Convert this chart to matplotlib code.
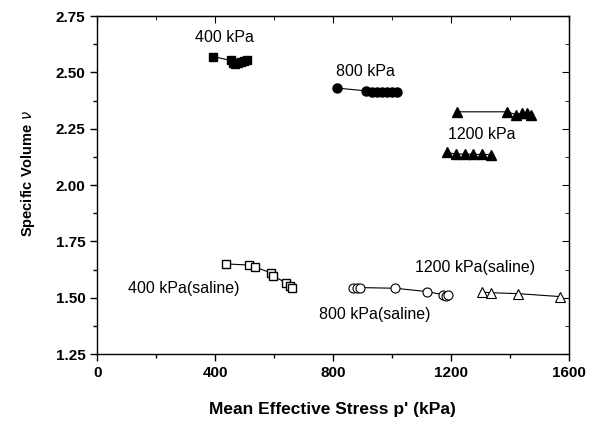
import matplotlib
matplotlib.use("Agg")
import matplotlib.pyplot as plt
from matplotlib.ticker import MultipleLocator

plt.rcParams['font.family'] = ['Liberation Sans', 'DejaVu Sans']

# Data (p' in kPa, specific volume v)
p_400 = [393, 452, 460, 468, 478, 488, 498, 508]
v_400 = [2.570, 2.553, 2.540, 2.537, 2.543, 2.548, 2.550, 2.553]

p_800 = [814, 912, 930, 948, 965, 982, 1000, 1015]
v_800 = [2.430, 2.418, 2.415, 2.413, 2.412, 2.412, 2.413, 2.414]

p_1200a = [1220, 1390, 1420, 1440, 1455, 1470]
v_1200a = [2.325, 2.325, 2.312, 2.318, 2.320, 2.313]

p_1200b = [1186, 1215, 1245, 1275, 1305, 1335]
v_1200b = [2.145, 2.137, 2.138, 2.136, 2.136, 2.135]

p_400s = [437, 515, 536, 590, 595, 641, 654, 660]
v_400s = [1.650, 1.645, 1.635, 1.610, 1.598, 1.565, 1.550, 1.545]

p_800s = [868, 880, 891, 1010, 1119, 1173, 1182, 1190]
v_800s = [1.545, 1.545, 1.545, 1.542, 1.527, 1.513, 1.508, 1.510]

p_1200s = [1305, 1336, 1427, 1569]
v_1200s = [1.525, 1.522, 1.518, 1.505]

x_ticks = [0, 400, 800, 1200, 1600]
y_ticks = [1.25, 1.50, 1.75, 2.00, 2.25, 2.50, 2.75]

fig = plt.figure(figsize=(6.0, 4.22), dpi=100)
ax = fig.add_axes([0.162, 0.161, 0.787, 0.801])

lw = 0.8
ax.plot(p_400, v_400, '-', color='black', lw=lw, marker='s', ms=6, mfc='black', mec='black')
ax.plot(p_800, v_800, '-', color='black', lw=lw, marker='o', ms=6.5, mfc='black', mec='black')
ax.plot(p_1200a, v_1200a, '-', color='black', lw=lw, marker='^', ms=7.5, mfc='black', mec='black')
ax.plot(p_1200b, v_1200b, '-', color='black', lw=lw, marker='^', ms=7.5, mfc='black', mec='black')
ax.plot(p_400s, v_400s, '-', color='black', lw=lw, marker='s', ms=6, mfc='white', mec='black', mew=1.0)
ax.plot(p_800s, v_800s, '-', color='black', lw=lw, marker='o', ms=6.5, mfc='white', mec='black', mew=0.8)
ax.plot(p_1200s, v_1200s, '-', color='black', lw=lw, marker='^', ms=7.5, mfc='white', mec='black', mew=0.8)

ax.set_xlim(0, 1600)
ax.set_ylim(1.25, 2.75)
ax.set_xticks(x_ticks)
ax.set_yticks(y_ticks)
ax.set_xticklabels([str(t) for t in x_ticks], fontweight='bold', fontsize=11)
ax.set_yticklabels(['%.2f' % t for t in y_ticks], fontweight='bold', fontsize=11)
ax.xaxis.set_minor_locator(MultipleLocator(200))
ax.yaxis.set_minor_locator(MultipleLocator(0.125))
ax.tick_params(which='major', direction='out', length=5, width=1)
ax.tick_params(which='minor', direction='out', length=3, width=1)
for s in ax.spines.values():
    s.set_linewidth(1.0)

# mirrored ticks on top/right pointing inward
axt = ax.secondary_xaxis('top')
axt.set_xticks(x_ticks)
axt.xaxis.set_minor_locator(MultipleLocator(200))
axt.tick_params(which='major', direction='in', length=5, labeltop=False)
axt.tick_params(which='minor', direction='in', length=3)
axr = ax.secondary_yaxis('right')
axr.set_yticks(y_ticks)
axr.yaxis.set_minor_locator(MultipleLocator(0.125))
axr.tick_params(which='major', direction='in', length=5, labelright=False)
axr.tick_params(which='minor', direction='in', length=3)

ax.set_xlabel("Mean Effective Stress p' (kPa)", fontweight='bold', fontsize=12.5)
ax.xaxis.set_label_coords(0.498, -0.143)
ax.set_ylabel(r"Specific Volume $\nu$", fontweight='bold', fontsize=10.5)
ax.yaxis.set_label_coords(-0.128, 0.533)

fs = 11.5
ax.text(431, 2.655, '400 kPa', fontsize=fs, ha='center', va='center')
ax.text(810, 2.506, '800 kPa', fontsize=fs, ha='left', va='center')
ax.text(1190, 2.226, '1200 kPa', fontsize=fs, ha='left', va='center')
ax.text(105, 1.543, '400 kPa(saline)', fontsize=fs, ha='left', va='center')
ax.text(1078, 1.636, '1200 kPa(saline)', fontsize=fs, ha='left', va='center')
ax.text(752, 1.427, '800 kPa(saline)', fontsize=fs, ha='left', va='center')

fig.savefig('out.png', dpi=100)
